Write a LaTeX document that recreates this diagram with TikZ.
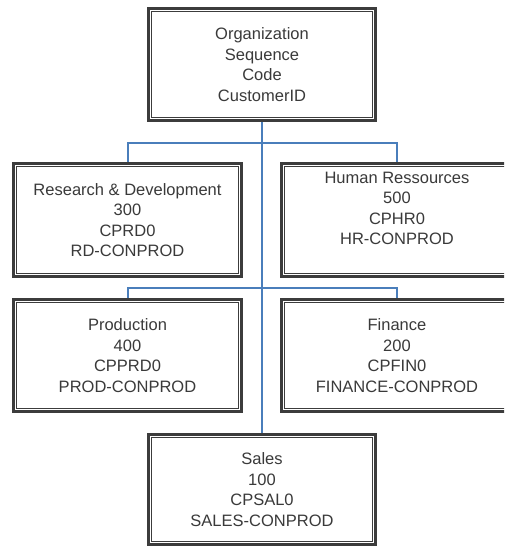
\documentclass[tikz,border=0pt]{standalone}
\usepackage{fontspec}
\setmainfont{Liberation Sans}
\definecolor{bordc}{HTML}{3C3C3C}
\definecolor{textc}{HTML}{3A3A3A}
\definecolor{connc}{HTML}{4A7EBB}
\pgfdeclarelayer{background}
\pgfsetlayers{background,main}
\tikzset{
  orgbox/.style={draw=bordc, line width=3.2pt, fill=white, inner sep=0pt,
    align=center, text=textc, font=\fontsize{16.5}{20.5}\selectfont},
  txt/.style={align=center, text=textc, inner sep=0pt, font=\fontsize{16.5}{20.5}\selectfont},
  conn/.style={draw=connc, line width=2pt},
  innerline/.style={draw=bordc, line width=1.3pt}
}
\begin{document}
\begin{tikzpicture}[x=1pt,y=-1pt]
\useasboundingbox (0,0) rectangle (504,548);
\clip (0,0) rectangle (504,548);
% boxes
\node[orgbox, minimum width=226.5pt, minimum height=111.5pt] (top) at (262,64.5)
  {Organization\\Sequence\\Code\\CustomerID};
\node[orgbox, minimum width=227.5pt, minimum height=112.5pt] (rd) at (127.5,220)
  {Research \& Development\\300\\CPRD0\\RD-CONPROD};
\node[orgbox, minimum width=230.5pt, minimum height=112.5pt] (hr) at (397,220) {};
\node[orgbox, minimum width=227.5pt, minimum height=111.5pt] (prod) at (127.5,355.5)
  {Production\\400\\CPPRD0\\PROD-CONPROD};
\node[orgbox, minimum width=230.5pt, minimum height=111.5pt] (fin) at (397,355.5)
  {Finance\\200\\CPFIN0\\FINANCE-CONPROD};
\node[orgbox, minimum width=227.5pt, minimum height=109.5pt] (sales) at (262,489.5)
  {Sales\\100\\CPSAL0\\SALES-CONPROD};
\node[txt] (hrt) at (397,208.5) {Human Ressources\\500\\CPHR0\\HR-CONPROD};
% inner thin borders
\foreach \n in {top,rd,hr,prod,fin,sales}{
  \draw[innerline] ([shift={(4.6,4.6)}]\n.north west) rectangle ([shift={(-4.6,-4.6)}]\n.south east);
}
% connectors (behind boxes)
\begin{pgfonlayer}{background}
\draw[conn] (top.south) -- (sales.north);
\draw[conn] (rd.north) -- ++(0,-19) -| (hr.north);
\draw[conn] (prod.north) -- ++(0,-10) -| (fin.north);
\end{pgfonlayer}
\end{tikzpicture}
\end{document}
